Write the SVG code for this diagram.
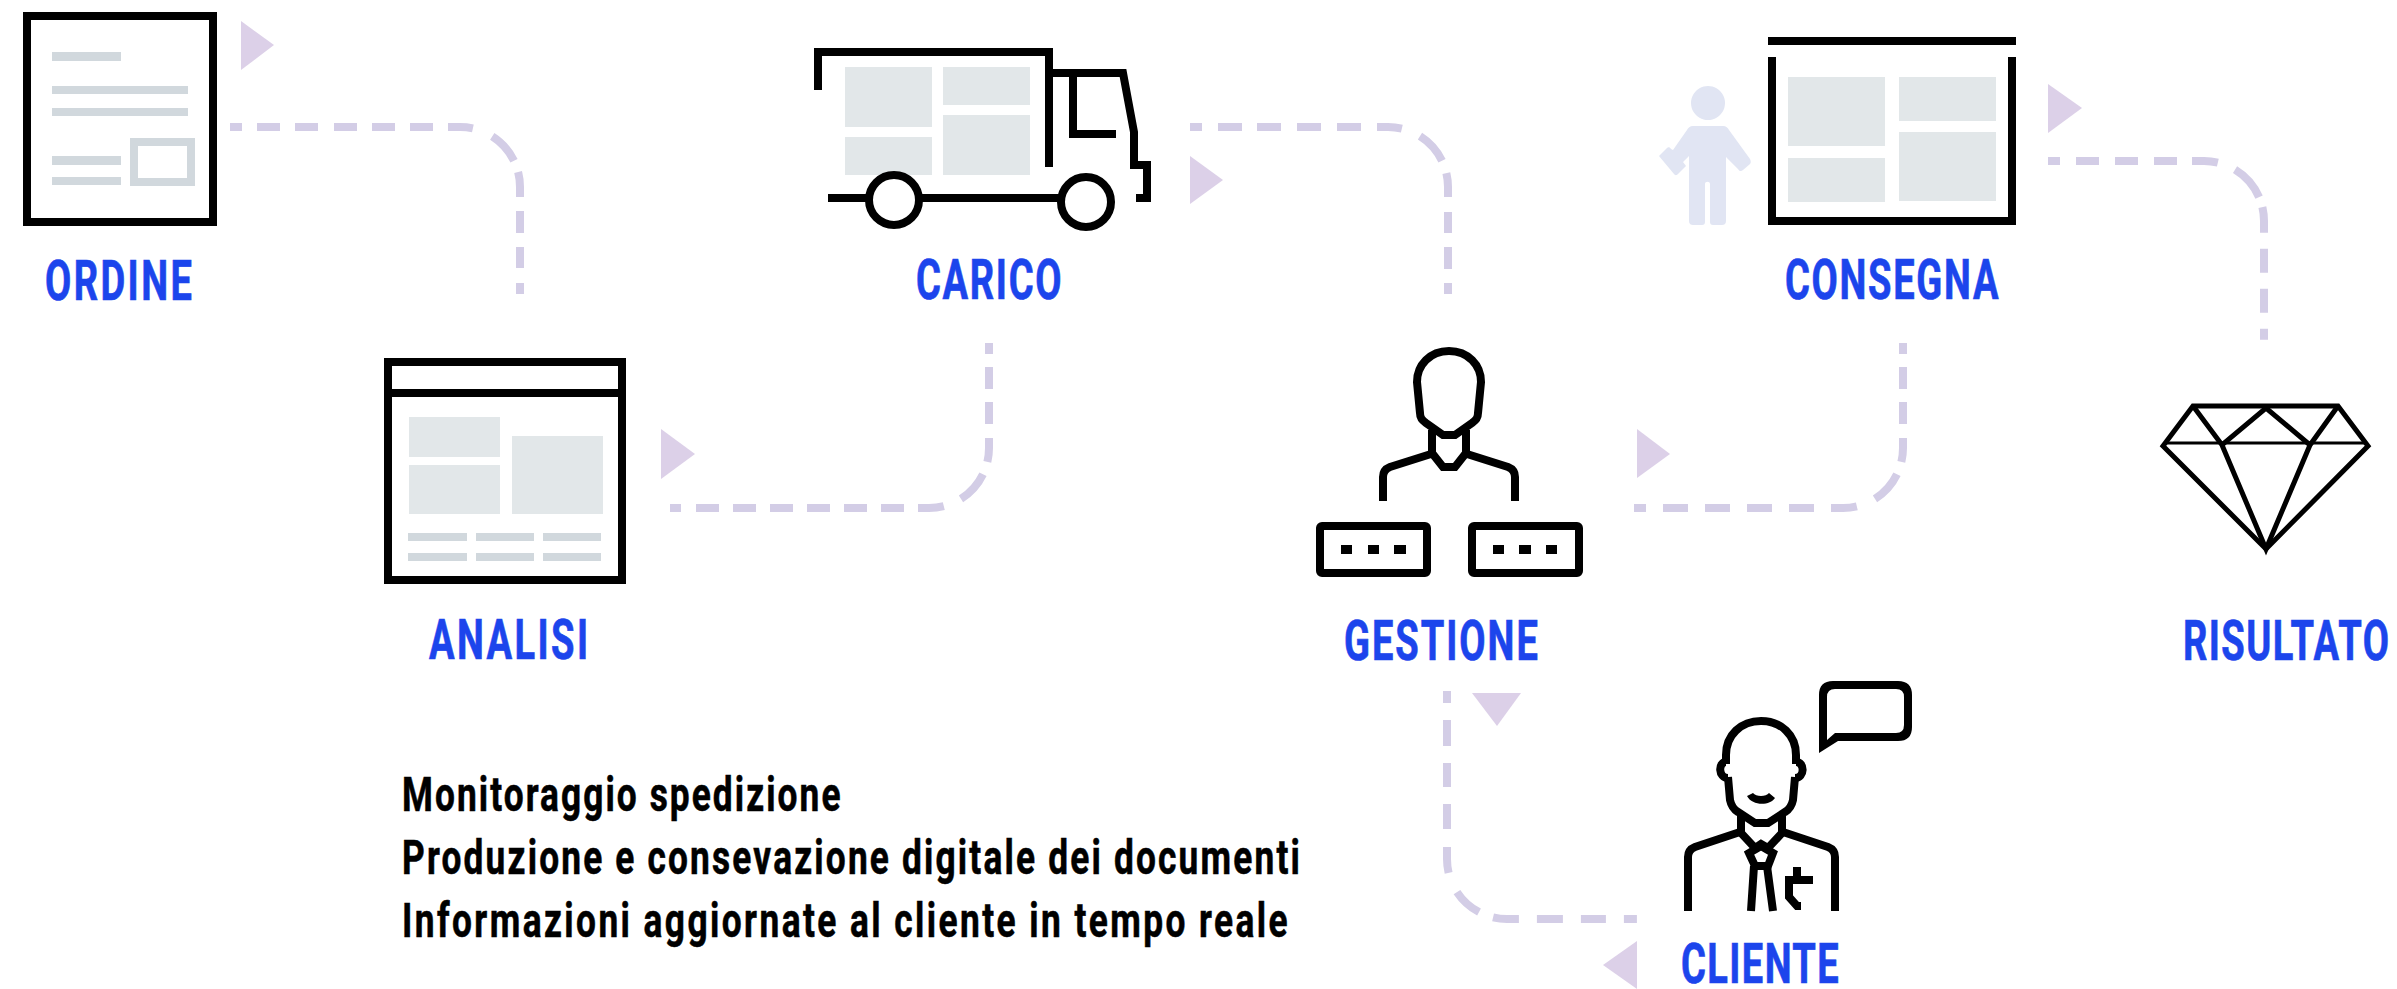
<svg xmlns="http://www.w3.org/2000/svg" width="2397" height="989" viewBox="0 0 2397 989">
<style>
.ln{fill:none;stroke:#000;stroke-width:8;stroke-miterlimit:10}
.w{fill:#fff;stroke:#000;stroke-width:8}
.g{fill:#e2e7e9}
.b{fill:#d1d8dd}
.k{fill:#000}
.tri{fill:#dcd0e8}
.dash{fill:none;stroke:#d3cde6;stroke-width:8}
.lab{font-family:"Roboto","Liberation Sans",sans-serif;font-weight:700;font-size:56px;fill:#1c45ec;stroke:#1c45ec;stroke-width:.7}
.note{font-family:"Roboto","Liberation Sans",sans-serif;font-weight:700;font-size:49px;fill:#000;stroke:#000;stroke-width:.6}
</style>
<rect width="2397" height="989" fill="#fff"/>
<g id="connectors">
<path class="dash" stroke-dasharray="12 15 23 15 23 16 23 15 23 15 23 15 25 21 33 12 25 14 22 14 21 15 11 99" d="M230,127H460A60,60 0 0 1 520,187V294"/>
<path class="dash" stroke-dasharray="11 15 23 14 23 14 23 14 23 14 23 14 23 14 26 18.7 33.3 13 24.2 13.8 22 13 22 13 11 99" d="M670,508H929A60,60 0 0 0 989,448V343"/>
<path class="dash" stroke-dasharray="12 16 24 15 24 16 24 16 24 16 25 19.7 33.3 13 24 15 21 14 22 14 11 99" d="M1190,127H1388A60,60 0 0 1 1448,187V294"/>
<path class="dash" stroke-dasharray="12 17 25 17 25 17 25 17 25 17 26 19.7 33.3 13 24 14 22 13 22 13 11 99" d="M1634,508H1843A60,60 0 0 0 1903,448V343"/>
<path class="dash" stroke-dasharray="12 16 23 16 23 16 23 15 26 18.6 37 10.5 25.8 16 24 16 24 16 11 99" d="M2048,161H2204A60,60 0 0 1 2264,221V340"/>
<path class="dash" stroke-dasharray="12 17 26 17 24 17 25 18 26 21 30 15 26 18 26 18 25 18 13 99" d="M1447,691V859A60,60 0 0 0 1507,919H1637"/>
<polygon class="tri" points="241,21 274,45 241,70"/>
<polygon class="tri" points="661,429 695,454 661,479"/>
<polygon class="tri" points="1190,156 1223,180 1190,204"/>
<polygon class="tri" points="1637,429 1670,454 1637,478"/>
<polygon class="tri" points="2048,84 2082,108 2048,133"/>
<polygon class="tri" points="1472,693 1521,693 1497,726"/>
<polygon class="tri" points="1637,941 1637,989 1603,965"/>
</g>
<g id="ordine">
<rect class="w" x="27" y="16" width="186" height="206"/>
<rect class="b" x="52" y="52" width="69" height="9"/>
<rect class="b" x="52" y="86" width="136" height="8"/>
<rect class="b" x="52" y="108" width="136" height="8"/>
<rect class="b" x="52" y="156" width="69" height="9"/>
<rect class="b" x="52" y="177" width="69" height="8"/>
<rect x="134" y="142" width="57" height="40" fill="none" stroke="#d1d8dd" stroke-width="8"/>
<text class="lab" transform="translate(45,300) scale(.68,1)" textLength="216" lengthAdjust="spacing">ORDINE</text>
</g>
<g id="analisi">
<rect class="w" x="388" y="362" width="234" height="218"/>
<line class="ln" x1="384" y1="393" x2="626" y2="393"/>
<rect class="g" x="409" y="417" width="91" height="40"/>
<rect class="g" x="409" y="465" width="91" height="49"/>
<rect class="g" x="512" y="436" width="91" height="78"/>
<rect class="b" x="408" y="533" width="59" height="8"/>
<rect class="b" x="476" y="533" width="58" height="8"/>
<rect class="b" x="543" y="533" width="58" height="8"/>
<rect class="b" x="408" y="553" width="59" height="8"/>
<rect class="b" x="476" y="553" width="58" height="8"/>
<rect class="b" x="543" y="553" width="58" height="8"/>
<text class="lab" transform="translate(429,659) scale(.68,1)" textLength="234" lengthAdjust="spacing">ANALISI</text>
</g>
<g id="carico">
<rect class="g" x="845" y="67" width="87" height="60"/>
<rect class="g" x="845" y="137" width="87" height="38"/>
<rect class="g" x="943" y="67" width="87" height="38"/>
<rect class="g" x="943" y="115" width="87" height="60"/>
<path class="ln" d="M818,90V52H1049V167"/>
<path class="ln" d="M1049,73H1123L1134,132V165H1147V198H1136"/>
<path class="ln" d="M1073,73V134H1116"/>
<path class="ln" d="M828,198H1065"/>
<circle class="w" cx="894" cy="200" r="25"/>
<circle class="w" cx="1086" cy="202" r="25"/>
<text class="lab" transform="translate(916,299) scale(.68,1)" textLength="214" lengthAdjust="spacing">CARICO</text>
</g>
<g id="gestione">
<path class="ln" d="M1449,351C1430,351 1417,365 1417,382L1420,413C1420,418 1422,420 1426,423L1443,435H1455L1472,423C1476,420 1478,418 1478,413L1481,382C1481,365 1468,351 1449,351Z"/>
<path class="ln" d="M1432,430V453L1443,467H1455L1466,453V430"/>
<path class="ln" d="M1431,454L1390,467C1385,469 1383,472 1383,477V501"/>
<path class="ln" d="M1467,454L1508,467C1513,469 1515,472 1515,477V501"/>
<rect class="w" x="1320" y="526" width="107" height="47" rx="2"/>
<rect class="w" x="1472" y="526" width="107" height="47" rx="2"/>
<rect class="k" x="1341" y="545" width="11" height="9"/>
<rect class="k" x="1368" y="545" width="11" height="9"/>
<rect class="k" x="1394" y="545" width="12" height="9"/>
<rect class="k" x="1493" y="545" width="11" height="9"/>
<rect class="k" x="1519" y="545" width="12" height="9"/>
<rect class="k" x="1546" y="545" width="11" height="9"/>
<text class="lab" transform="translate(1344,660) scale(.68,1)" textLength="285" lengthAdjust="spacing">GESTIONE</text>
</g>
<g id="consegna">
<path d="M1708,86a17,17 0 1 0 .01,0Z" fill="#e1e5f3"/>
<path fill="#e1e5f3" d="M1693,126H1723C1726,126 1728,128 1729,130L1750,159C1751,161 1751,163 1750,164L1743,170C1741,172 1739,171 1738,169L1726,157V221C1726,224 1724,225 1722,225H1713C1711,225 1710,224 1710,222V184C1710,181 1705,181 1705,184V222C1705,224 1704,225 1702,225H1693C1691,225 1689,224 1689,221V156L1683,162L1686,166L1678,174C1676,176 1675,175 1674,174L1659,156L1667,148C1668,147 1670,147 1671,149L1673,150L1687,130C1688,128 1690,126 1693,126Z"/>
<rect class="k" x="1768" y="37" width="248" height="8"/>
<path class="ln" d="M1772,57V221H2012V57"/>
<rect class="g" x="1788" y="77" width="97" height="69"/>
<rect class="g" x="1788" y="158" width="97" height="44"/>
<rect class="g" x="1899" y="77" width="97" height="44"/>
<rect class="g" x="1899" y="132" width="97" height="69"/>
<text class="lab" transform="translate(1785,299) scale(.68,1)" textLength="314" lengthAdjust="spacing">CONSEGNA</text>
</g>
<g id="risultato">
<path fill="none" stroke="#000" stroke-width="5" stroke-linejoin="miter" d="M2193,406H2338L2368,446L2266,549L2163,446Z"/>
<path fill="none" stroke="#000" stroke-width="3" d="M2165,443H2366"/>
<path fill="none" stroke="#000" stroke-width="5" d="M2193,406L2222,445L2266,408L2310,445L2338,406M2222,445L2266,549L2310,445"/>
<text class="lab" transform="translate(2183,660) scale(.68,1)" textLength="303" lengthAdjust="spacing">RISULTATO</text>
</g>
<g id="cliente">
<path class="ln" d="M1726,764V755C1726,735 1741,721 1761,721C1781,721 1796,735 1796,755V764M1728,777L1730,800C1731,805 1733,809 1738,812L1755,823H1768L1785,812C1790,809 1792,805 1793,800L1795,777"/>
<path class="ln" d="M1726,762C1718,762 1718,778 1728,778M1796,762C1805,762 1805,778 1795,778"/>
<path class="k" d="M1747,796L1753,793C1756,797 1766,797 1769,793L1775,798C1770,806 1752,806 1747,796Z"/>
<path class="ln" d="M1741,815V833L1755,848L1761,844L1768,848L1782,833V815"/>
<path class="ln" d="M1740,832L1695,847C1690,849 1688,852 1688,857V911"/>
<path class="ln" d="M1783,832L1828,847C1833,849 1835,852 1835,857V911"/>
<path class="ln" d="M1761,846L1773,853L1768,866H1755L1749,853Z"/>
<path class="ln" d="M1754,866L1751,911M1767,866L1773,911"/>
<path class="ln" d="M1797,867V880M1813,880H1789V897L1797,906H1801"/>
<path class="k" fill-rule="evenodd" d="M1819,753V695Q1819,681 1833,681H1898Q1912,681 1912,695V727Q1912,741 1898,741H1838ZM1827,740V697Q1827,689 1835,689H1896Q1904,689 1904,697V725Q1904,733 1896,733H1835Z"/>
<text class="lab" transform="translate(1681,983) scale(.68,1)" textLength="232" lengthAdjust="spacing">CLIENTE</text>
</g>
<g id="notes">
<text class="note" transform="translate(402,811) scale(.72,1)" textLength="609" lengthAdjust="spacing">Monitoraggio spedizione</text>
<text class="note" transform="translate(402,874) scale(.72,1)" textLength="1247" lengthAdjust="spacing">Produzione e consevazione digitale dei documenti</text>
<text class="note" transform="translate(402,937) scale(.72,1)" textLength="1230" lengthAdjust="spacing">Informazioni aggiornate al cliente in tempo reale</text>
</g>
</svg>
